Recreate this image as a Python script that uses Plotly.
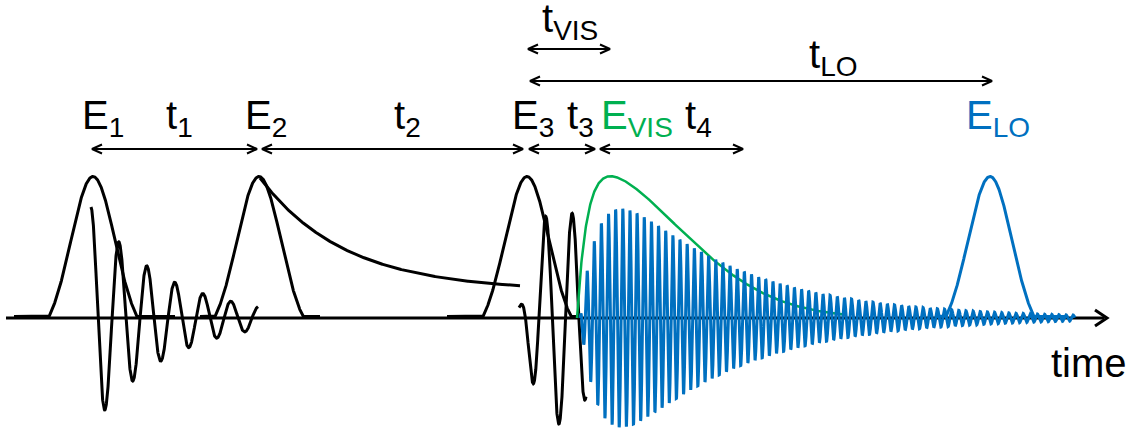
import numpy as np
import plotly.graph_objects as go

# ---- pulse sequence (time axis in arbitrary units, amplitude in arbitrary units)
pulse_times = [93, 259, 527]          # E1, E2, E3 arrival times
lo_time = 990                         # local oscillator arrival
pulse_height = 140
pulse_sigma = 22
pulse_support = 44

# coherence after E1: damped oscillation
fid1_start, fid1_end = 91, 258
fid1_amp, fid1_period, fid1_decay = 111, 28, 74

# population decay after E2
pop_start, pop_end = 260, 520
pop_offset, pop_amp, pop_decay = 27, 113, 85

# third-order response during E3
e3_start, e3_end = 519, 586
e3_amp, e3_center, e3_width = 106, 561, 34
e3_period, e3_phase = 26.7, 545.5

# emitted visible field envelope
vis_start, vis_end = 577, 845
vis_amp, vis_rise, vis_sigma = 156, 10, 97

# emitted oscillating field
sig_start, sig_end = 580, 1075
sig_amp, sig_rise, sig_decay = 182, 22, 120
sig_period, sig_phase = 7.15, 587

# time-interval brackets: (from, to, height)
intervals = {
    "t1": (92, 257, 169),
    "t2": (262, 523, 169),
    "t3": (529, 595, 169),
    "t4": (600, 743, 169),
    "tVIS": (528, 610, 269),
    "tLO": (530, 992, 237),
}

BLACK = "#000000"
GREEN = "#00B050"
BLUE = "#0070C0"
FONT = "Liberation Sans, Arial, sans-serif"


def pulse(tc, t):
    g = np.exp(-(t - tc) ** 2 / (2 * pulse_sigma ** 2))
    floor = np.exp(-pulse_support ** 2 / (2 * pulse_sigma ** 2))
    y = (g - floor) / (1 - floor)
    return pulse_height * np.clip(y, 0, None)


fig = go.Figure()

# time axis
fig.add_trace(go.Scatter(x=[6, 1104], y=[0, 0], mode="lines",
                         line=dict(color=BLACK, width=3)))
fig.add_trace(go.Scatter(x=[1095, 1107, 1095], y=[8, 0, -8], mode="lines",
                         line=dict(color=BLACK, width=3)))

# excitation pulses
spans = [(14, 175), (200, 320), (447, 580)]
for tc, (a, b) in zip(pulse_times, spans):
    t = np.linspace(a, b, 600)
    fig.add_trace(go.Scatter(x=t, y=pulse(tc, t) + 1.5, mode="lines",
                             line=dict(color=BLACK, width=3)))

# first-order coherence
t = np.linspace(fid1_start, fid1_end, 1500)
u = t - fid1_start
y = fid1_amp * np.exp(-u / fid1_decay) * np.cos(2 * np.pi * u / fid1_period)
fig.add_trace(go.Scatter(x=t, y=y, mode="lines", line=dict(color=BLACK, width=3)))

# population decay
t = np.linspace(pop_start, pop_end, 600)
y = pop_offset + pop_amp * np.exp(-(t - pop_start) / pop_decay)
fig.add_trace(go.Scatter(x=t, y=y, mode="lines", line=dict(color=BLACK, width=3)))

# third-order response
t = np.linspace(e3_start, e3_end, 800)
env = e3_amp * np.exp(-((t - e3_center) / e3_width) ** 4)
y = env * np.cos(2 * np.pi * (t - e3_phase) / e3_period)
fig.add_trace(go.Scatter(x=t, y=y, mode="lines", line=dict(color=BLACK, width=3)))

# visible field envelope
t = np.linspace(vis_start, vis_end, 800)
u = t - vis_start
y = vis_amp * (1 - np.exp(-u / vis_rise)) * np.exp(-u ** 2 / (2 * vis_sigma ** 2))
fig.add_trace(go.Scatter(x=t, y=y, mode="lines", line=dict(color=GREEN, width=2.5)))

# emitted oscillating field
t = np.arange(sig_start, sig_end, 0.15)
u = t - sig_start
env = sig_amp * (1 - np.exp(-u / sig_rise)) * np.exp(-u / sig_decay)
y = env * np.cos(2 * np.pi * (t - sig_phase) / sig_period)
fig.add_trace(go.Scatter(x=t, y=y, mode="lines", line=dict(color=BLUE, width=3)))

# local oscillator pulse
t = np.linspace(935, 1068, 500)
fig.add_trace(go.Scatter(x=t, y=pulse(lo_time, t) + 1.5, mode="lines",
                         line=dict(color=BLUE, width=3)))

# double-headed interval arrows
ax, ay = [], []
for a, b, h in intervals.values():
    ax += [a, b, None, a + 10, a, a + 10, None, b - 10, b, b - 10, None]
    ay += [h, h, None, h + 4.5, h, h - 4.5, None, h + 4.5, h, h - 4.5, None]
fig.add_trace(go.Scatter(x=ax, y=ay, mode="lines", line=dict(color=BLACK, width=2)))

# labels: (text, x, y, colour)
labels = [
    ("E<sub>1</sub>", 80, 200, BLACK),
    ("t<sub>1</sub>", 164, 200, BLACK),
    ("E<sub>2</sub>", 243, 200, BLACK),
    ("t<sub>2</sub>", 392, 200, BLACK),
    ("E<sub>3</sub>", 510, 200, BLACK),
    ("t<sub>3</sub>", 565, 200, BLACK),
    ("E<sub>VIS</sub>", 599, 200, GREEN),
    ("t<sub>4</sub>", 683, 200, BLACK),
    ("E<sub>LO</sub>", 964, 200, BLUE),
    ("t<sub>VIS</sub>", 540, 297, BLACK),
    ("t<sub>LO</sub>", 807, 261, BLACK),
    ("time", 1049, -45, BLACK),
]
for text, x, y, c in labels:
    fig.add_annotation(x=x, y=y, text=text, showarrow=False, xanchor="left",
                       yanchor="middle", font=dict(family=FONT, size=40, color=c))

fig.update_layout(
    width=1134, height=436,
    margin=dict(l=0, r=0, t=0, b=0),
    paper_bgcolor="white", plot_bgcolor="white",
    showlegend=False,
    xaxis=dict(range=[0, 1134], visible=False, fixedrange=True),
    yaxis=dict(range=[-118, 318], visible=False, fixedrange=True),
)

fig.write_html("out.html")
